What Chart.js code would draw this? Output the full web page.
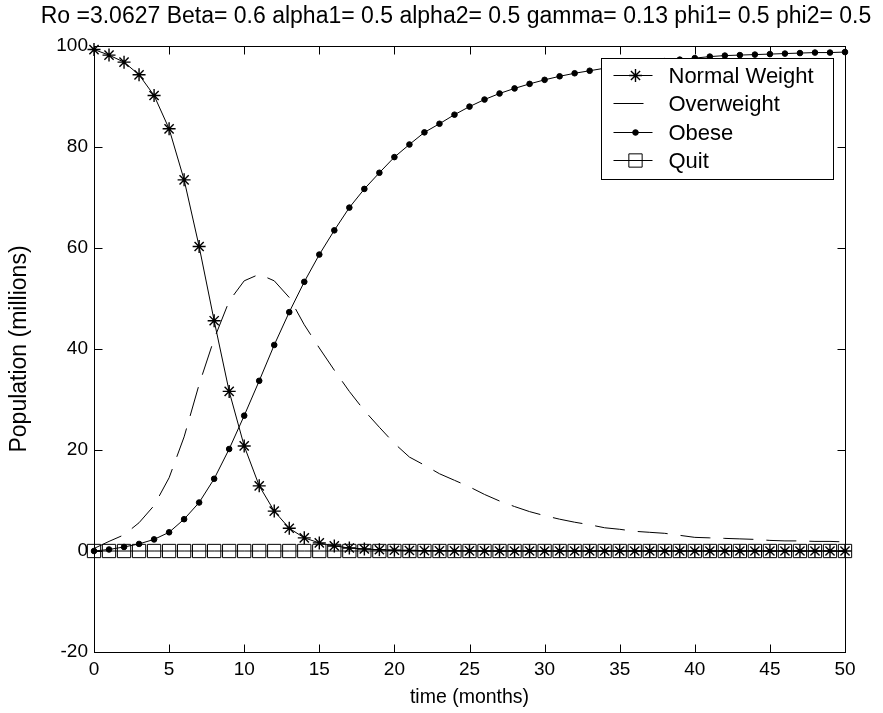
<!DOCTYPE html>
<html>
<head>
<meta charset="utf-8">
<script src="https://cdn.jsdelivr.net/npm/chart.js@4.4.1/dist/chart.umd.min.js"></script>
<style>
  html, body { margin: 0; padding: 0; background: #fff; }
  #plot { display: block; }
</style>
</head>
<body>
<canvas id="plot" width="883" height="713"></canvas>
<script>
const FONT = '"Liberation Sans", Arial, sans-serif';
Chart.defaults.color = '#000';
Chart.defaults.font.family = FONT;

const titleText = 'Ro =3.0627 Beta= 0.6 alpha1= 0.5 alpha2= 0.5 gamma= 0.13 phi1= 0.5 phi2= 0.5';

const months = [0, 1, 2, 3, 4, 5, 6, 7, 8, 9, 10, 11, 12, 13, 14, 15, 16, 17, 18, 19, 20,
  21, 22, 23, 24, 25, 26, 27, 28, 29, 30, 31, 32, 33, 34, 35, 36, 37, 38, 39, 40,
  41, 42, 43, 44, 45, 46, 47, 48, 49, 50];

const normalWeight = [99.3, 98.2, 96.8, 94.3, 90.2, 83.6, 73.5, 60.3, 45.6, 31.6, 20.8,
  12.9, 7.9, 4.5, 2.6, 1.6, 1.0, 0.6, 0.4, 0.25, 0.15,
  0.1, 0.06, 0.04, 0.03, 0.02, 0.01, 0, 0, 0, 0,
  0, 0, 0, 0, 0, 0, 0, 0, 0, 0,
  0, 0, 0, 0, 0, 0, 0, 0, 0, 0];

const overweight = [0.5, 1.9, 3.2, 5.6, 9.0, 14.5, 22.6, 33.0, 42.0, 49.5, 53.5,
  54.8, 53.5, 50.2, 44.8, 40.2, 35.8, 31.6, 27.8, 24.5, 21.3,
  18.6, 17.0, 15.3, 14.0, 12.7, 11.2, 9.9, 8.8, 7.8, 7.0,
  6.3, 5.7, 5.2, 4.6, 4.3, 3.9, 3.7, 3.5, 3.1, 2.7,
  2.6, 2.5, 2.4, 2.3, 2.1, 2.0, 2.0, 1.9, 1.9, 1.8];

const obese = [0, 0.3, 0.8, 1.4, 2.3, 3.7, 6.3, 9.6, 14.3, 20.2, 26.8,
  33.7, 40.8, 47.3, 53.3, 58.7, 63.5, 68.0, 71.7, 74.9, 78.0,
  80.5, 82.9, 84.6, 86.4, 88.0, 89.4, 90.6, 91.6, 92.5, 93.3,
  94.0, 94.6, 95.1, 95.6, 96.0, 96.4, 96.7, 97.0, 97.3, 97.6,
  97.9, 98.1, 98.2, 98.3, 98.4, 98.5, 98.6, 98.7, 98.7, 98.8];

const quit = [0, 0, 0, 0, 0, 0, 0, 0, 0, 0, 0,
  0, 0, 0, 0, 0, 0, 0, 0, 0, 0,
  0, 0, 0, 0, 0, 0, 0, 0, 0, 0,
  0, 0, 0, 0, 0, 0, 0, 0, 0, 0,
  0, 0, 0, 0, 0, 0, 0, 0, 0, 0];

const xTicks = { min: 0, max: 50, step: 5 };
const yTicks = { min: -20, max: 100, step: 20 };

const toPoints = (vals) => months.map((t, i) => ({ x: t, y: vals[i] }));

// inward ticks + box round the axes, like matlab "box on"
const matlabFrame = {
  id: 'matlabFrame',
  afterDatasetsDraw(chart) {
    const { ctx, chartArea: a, scales: { x, y } } = chart;
    const L = Math.round(a.left) + 0.5, R = Math.round(a.right) + 0.5;
    const T = Math.round(a.top) + 0.5, B = Math.round(a.bottom) + 0.5;
    const len = 8;
    ctx.save();
    ctx.strokeStyle = '#000';
    ctx.lineWidth = 1;
    ctx.setLineDash([]);
    ctx.strokeRect(L, T, R - L, B - T);
    ctx.beginPath();
    x.ticks.forEach(t => {
      const px = Math.round(x.getPixelForValue(t.value)) + 0.5;
      ctx.moveTo(px, B); ctx.lineTo(px, B - len);
      ctx.moveTo(px, T); ctx.lineTo(px, T + len);
    });
    y.ticks.forEach(t => {
      const py = Math.round(y.getPixelForValue(t.value)) + 0.5;
      ctx.moveTo(L, py); ctx.lineTo(L + len, py);
      ctx.moveTo(R, py); ctx.lineTo(R - len, py);
    });
    ctx.stroke();
    ctx.restore();
  }
};

// boxed legend inside the axes, top right
const boxLegend = {
  id: 'boxLegend',
  afterDraw(chart) {
    const { ctx, chartArea: a } = chart;
    const w = 232, h = 121, rowH = 28.3;
    const left = Math.round(a.right - 12 - w) + 0.5;
    const top = Math.round(a.top + 12) + 0.5;
    ctx.save();
    ctx.fillStyle = '#fff';
    ctx.fillRect(left, top, w, h);
    ctx.strokeStyle = '#000';
    ctx.lineWidth = 1;
    ctx.strokeRect(left, top, w, h);
    ctx.font = '22px ' + FONT;
    ctx.textBaseline = 'middle';
    chart.data.datasets.forEach((ds, i) => {
      const cy = Math.round(top + 16.5 + i * rowH) + 0.5;
      ctx.strokeStyle = '#000';
      ctx.setLineDash(ds.borderDash || []);
      ctx.beginPath();
      ctx.moveTo(left + 12, cy);
      ctx.lineTo(left + 51, cy);
      ctx.stroke();
      ctx.setLineDash([]);
      if (ds.pointRadius > 0) {
        ctx.fillStyle = ds.pointBackgroundColor;
        ctx.lineWidth = ds.pointBorderWidth;
        Chart.helpers.drawPoint(ctx, {
          pointStyle: ds.pointStyle, radius: ds.pointRadius,
          borderWidth: ds.pointBorderWidth, rotation: 0
        }, left + 34, cy);
        ctx.lineWidth = 1;
      }
      ctx.fillStyle = '#000';
      ctx.fillText(ds.label, left + 67, cy + 1);
    });
    ctx.restore();
  }
};

new Chart(document.getElementById('plot'), {
  type: 'line',
  data: {
    datasets: [{
      label: 'Normal Weight',
      data: toPoints(normalWeight),
      borderColor: '#000',
      borderWidth: 1,
      pointStyle: 'star',
      pointRadius: 6.5,
      pointBorderColor: '#000',
      pointBorderWidth: 1.4,
      pointBackgroundColor: 'rgba(0,0,0,0)',
    }, {
      label: 'Overweight',
      data: toPoints(overweight),
      borderColor: '#000',
      borderWidth: 1,
      borderDash: [30, 13],
      pointRadius: 0,
    }, {
      label: 'Obese',
      data: toPoints(obese),
      borderColor: '#000',
      borderWidth: 1,
      pointStyle: 'circle',
      pointRadius: 2.8,
      pointBorderColor: '#000',
      pointBorderWidth: 1,
      pointBackgroundColor: '#000',
    }, {
      label: 'Quit',
      data: toPoints(quit),
      borderColor: '#000',
      borderWidth: 1,
      pointStyle: 'rect',
      pointRadius: 9.4,
      pointBorderColor: '#000',
      pointBorderWidth: 1,
      pointBackgroundColor: 'rgba(0,0,0,0)',
    }]
  },
  options: {
    responsive: false,
    animation: false,
    events: [],
    clip: false,
    elements: { line: { tension: 0, fill: false } },
    layout: { padding: { left: 29, right: 0, top: 0, bottom: 0 } },
    plugins: {
      legend: { display: false },
      tooltip: { enabled: false },
      title: {
        display: true,
        text: titleText,
        color: '#000',
        font: { size: 23, weight: 'normal' },
        padding: { top: 3, bottom: 15.4 }
      }
    },
    scales: {
      x: {
        type: 'linear',
        min: xTicks.min,
        max: xTicks.max,
        ticks: { stepSize: xTicks.step, padding: 6, font: { size: 19 } },
        grid: { display: false, drawTicks: false },
        border: { display: false },
        title: { display: true, text: 'time (months)', font: { size: 19.5 }, padding: { top: 0, bottom: 4 } },
        afterFit(s) { s.height = 61; }
      },
      y: {
        type: 'linear',
        min: yTicks.min,
        max: yTicks.max,
        ticks: { stepSize: yTicks.step, padding: 6, font: { size: 19 } },
        grid: { display: false, drawTicks: false },
        border: { display: false },
        title: { display: true, text: 'Population (millions)', font: { size: 23 }, padding: { top: -22.8, bottom: 0 } },
        afterFit(s) { s.width = 65; }
      },
      yRight: {
        type: 'linear',
        position: 'right',
        min: yTicks.min,
        max: yTicks.max,
        ticks: { display: false },
        grid: { display: false, drawTicks: false },
        border: { display: false },
        afterFit(s) { s.width = 38; }
      }
    }
  },
  plugins: [matlabFrame, boxLegend]
});
</script>
</body>
</html>
